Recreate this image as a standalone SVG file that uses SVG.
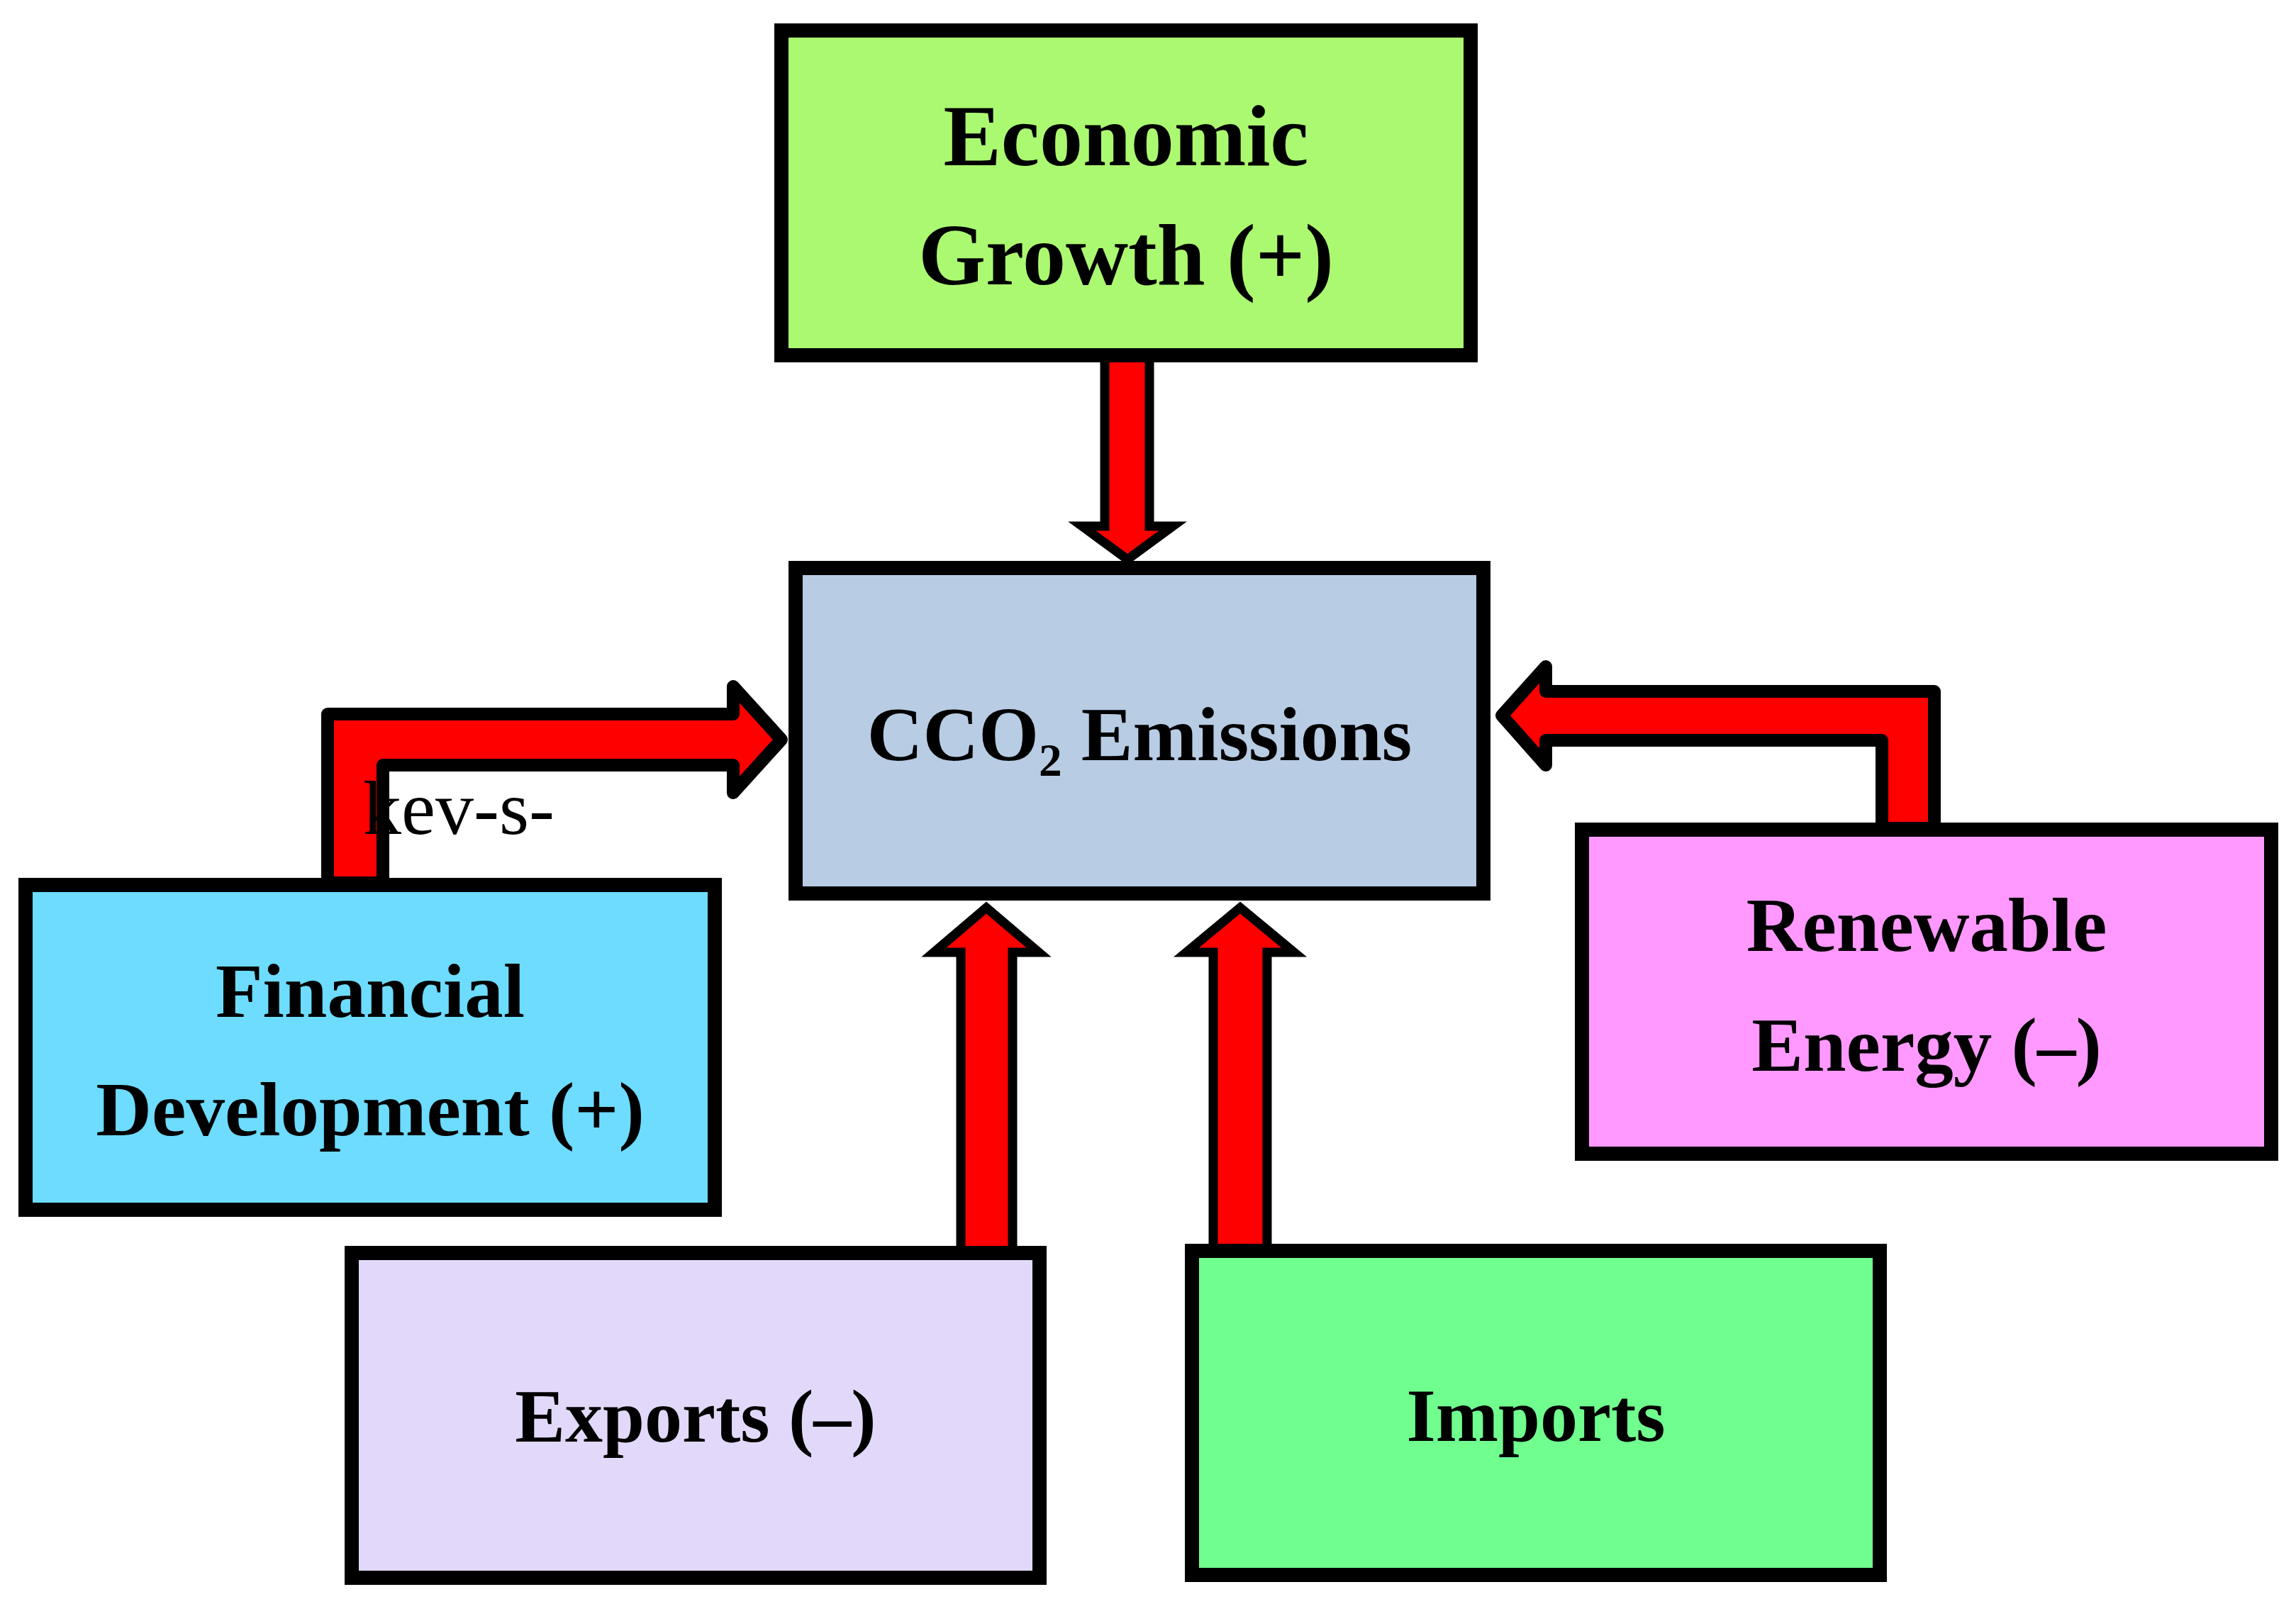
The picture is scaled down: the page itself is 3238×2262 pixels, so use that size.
<svg xmlns="http://www.w3.org/2000/svg" width="3238" height="2262" viewBox="0 0 3238 2262">
<style>
.box{stroke:#000;stroke-width:20}
.arr{fill:#ff0000;stroke:#000;stroke-width:13;stroke-linejoin:miter}
.bent{fill:#ff0000;stroke:#000;stroke-width:18;stroke-linejoin:round}
.t{font-family:"Liberation Serif","Times New Roman",serif;font-weight:bold;font-size:106px;text-anchor:middle;fill:#000}
.big{font-size:122px}
.m{font-size:109px}
.note{font-family:"Liberation Serif","Times New Roman",serif;font-size:108px;fill:#000}
</style>
<rect width="3238" height="2262" fill="#fff"/>
<g id="connectors">
<polygon class="arr" points="1558,495 1621,495 1621,742 1654,742 1590,789 1526,742 1558,742"/>
<polygon class="arr" points="1355,1770 1355,1343 1317,1343 1391,1280 1465,1343 1428,1343 1428,1770"/>
<polygon class="arr" points="1711,1765 1711,1343 1673,1343 1749,1280 1825,1343 1787,1343 1787,1765"/>
<polygon class="bent" points="462,1245 462,1007 1034,1007 1034,968 1102,1043 1034,1118 1034,1079 540,1079 540,1245"/>
<polygon class="bent" points="2728,1168 2728,975 2180,975 2180,940 2118,1009 2180,1079 2180,1044 2654,1044 2654,1168"/>
</g>
<g id="economic-growth">
<rect class="box" x="1102" y="43" width="972" height="458" fill="#abf971"/>
<text class="t big" x="1588" y="233">Economic</text>
<text class="t big" x="1588" y="401">Growth (+)</text>
</g>
<g id="co2-emissions">
<rect class="box" x="1122" y="801" width="970" height="459" fill="#b8cce4"/>
<text class="t m" x="1607" y="1072">CCO₂ Emissions</text>
</g>
<g id="financial-development">
<rect class="box" x="36" y="1248" width="972" height="458" fill="#6ddcff"/>
<text class="t m" x="522" y="1434">Financial</text>
<text class="t m" x="522" y="1601">Development (+)</text>
</g>
<g id="renewable-energy">
<rect class="box" x="2231" y="1170" width="972" height="457" fill="#ff99ff"/>
<text class="t m" x="2717" y="1341">Renewable</text>
<text class="t m" x="2717" y="1510">Energy (–)</text>
</g>
<g id="exports">
<rect class="box" x="496" y="1767" width="970" height="458" fill="#e2d9fa"/>
<text class="t" x="981" y="2033">Exports (–)</text>
</g>
<g id="imports">
<rect class="box" x="1681" y="1764" width="970" height="457" fill="#70ff8f"/>
<text class="t" x="2166" y="2032">Imports</text>
</g>
<text class="note" x="512" y="1176">kev-s-</text>
</svg>
